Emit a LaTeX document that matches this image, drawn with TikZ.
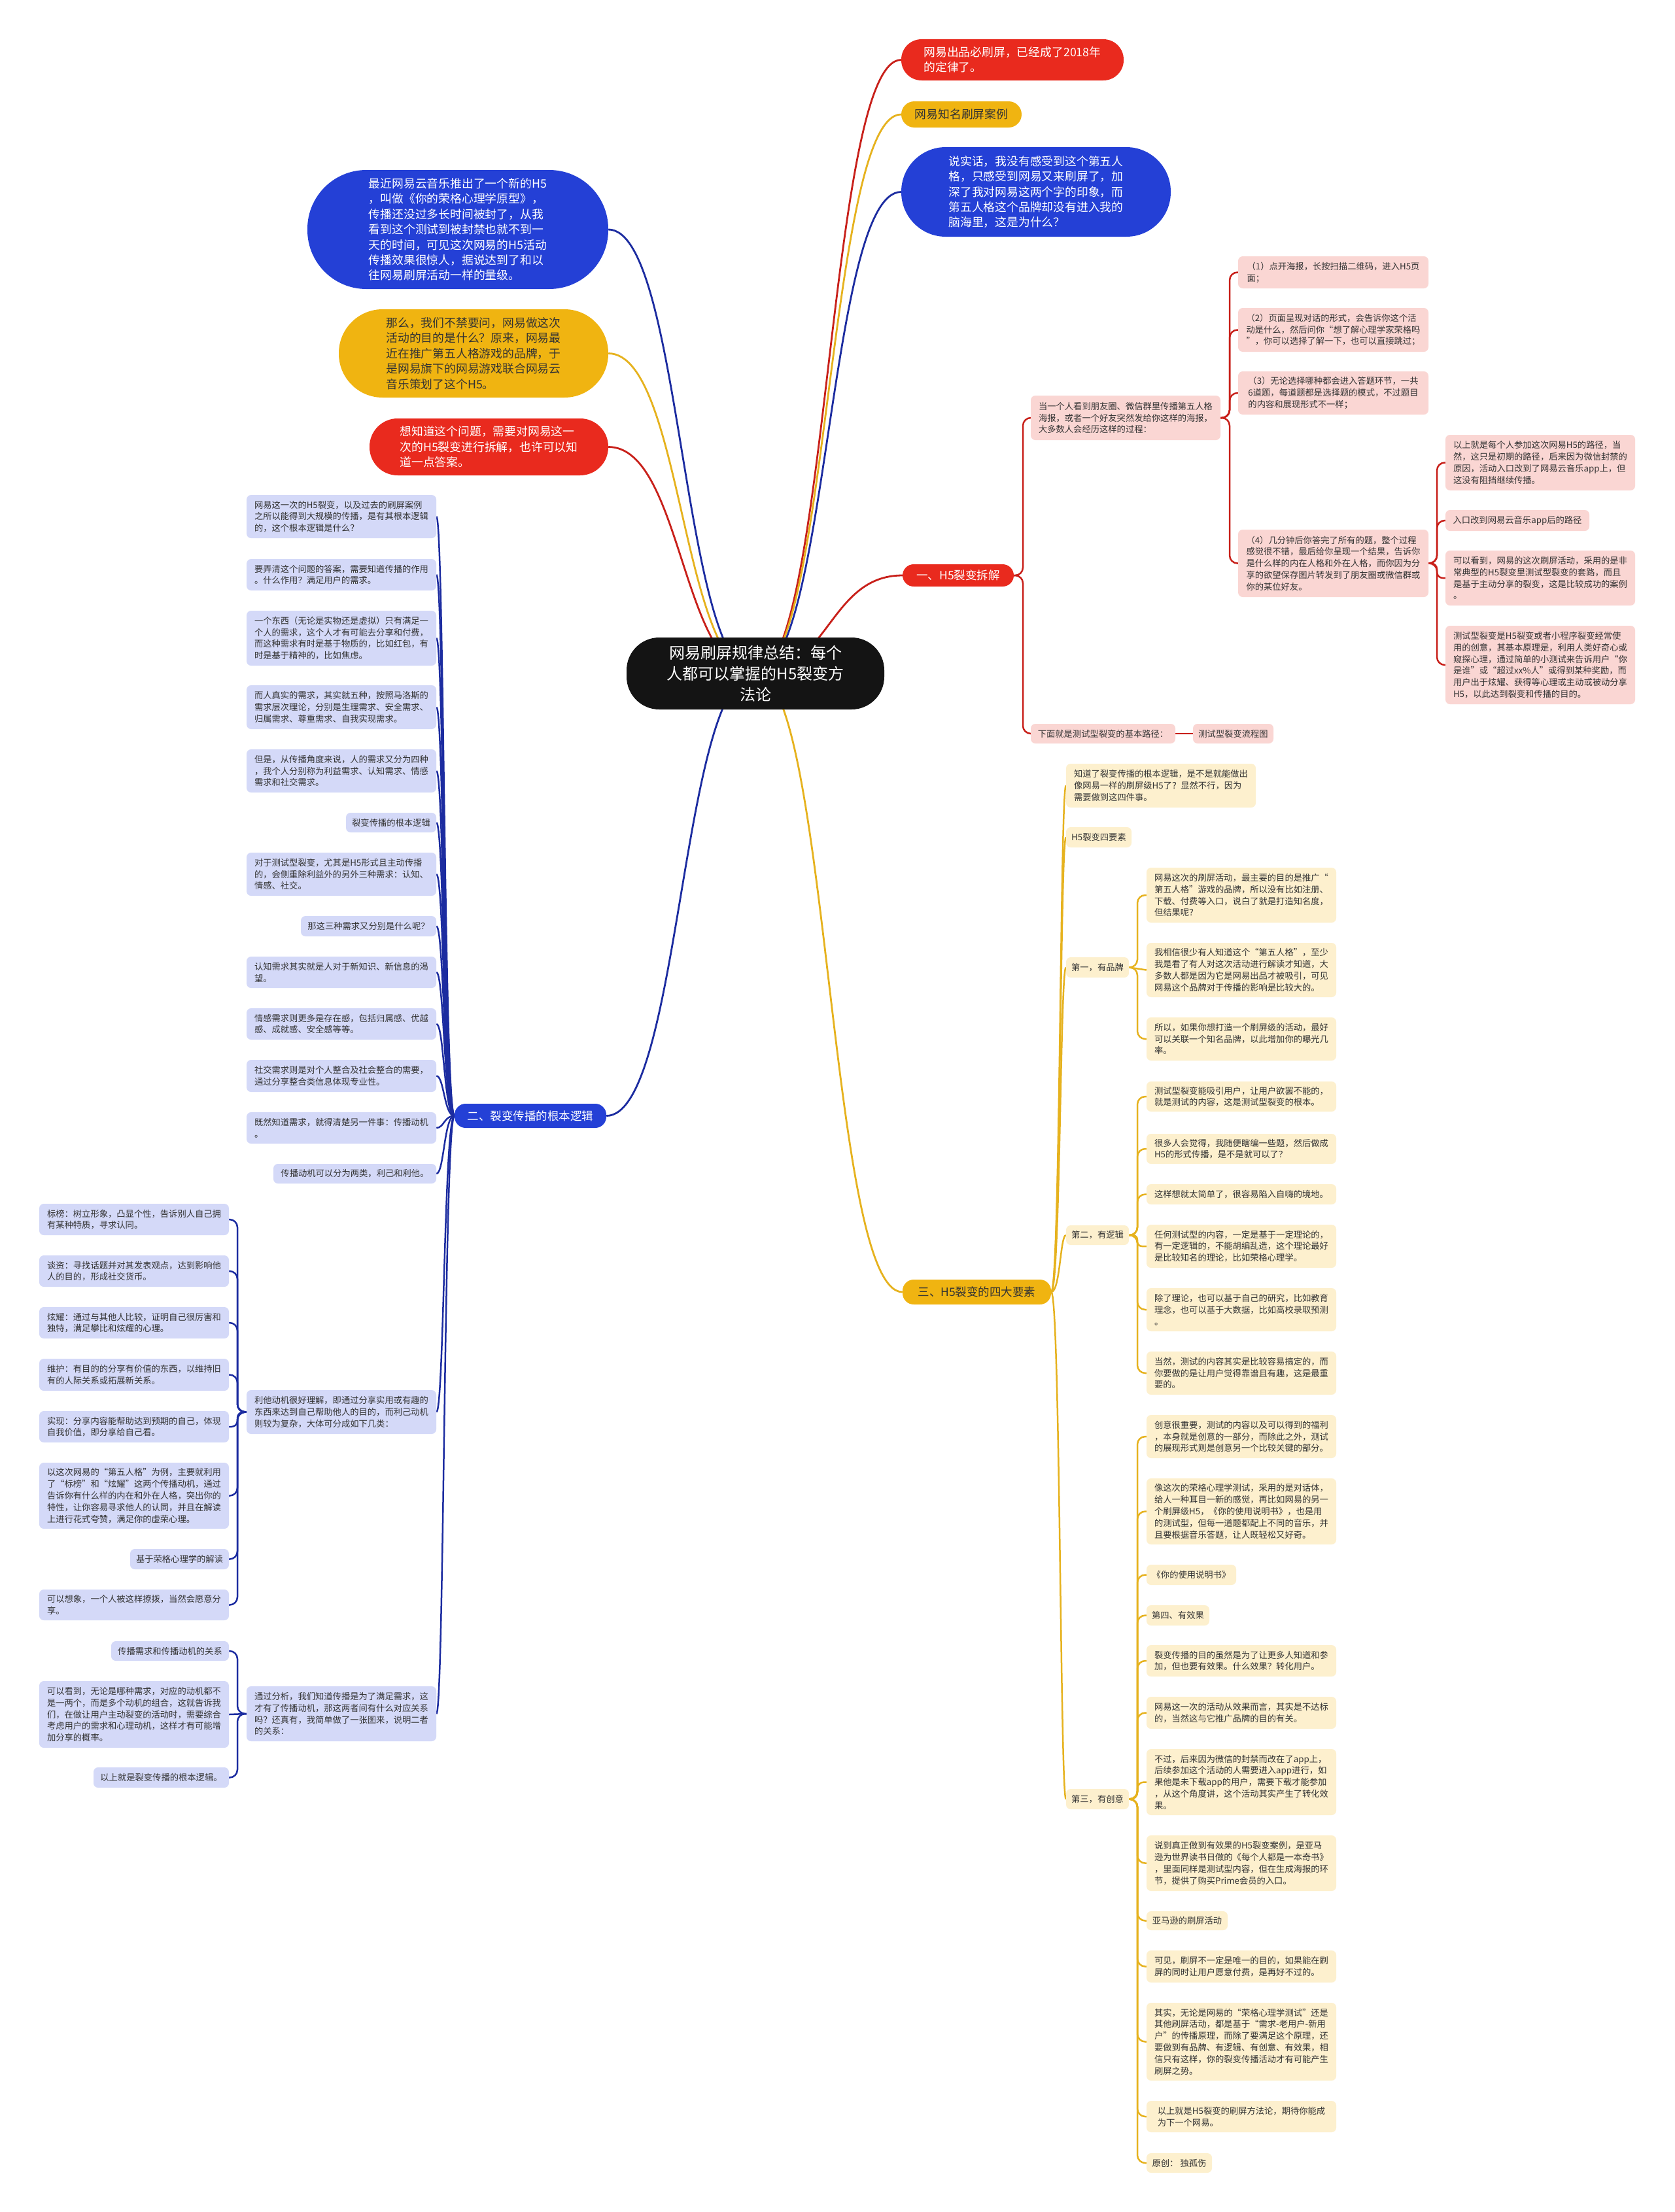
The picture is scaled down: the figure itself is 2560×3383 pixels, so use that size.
\documentclass[tikz,border=0pt]{standalone}
\usepackage{fontspec}
\setmainfont{Noto Sans CJK SC}
\usetikzlibrary{calc,backgrounds}
\definecolor{redf}{RGB}{233,42,30}
\definecolor{yelf}{RGB}{240,180,17}
\definecolor{bluf}{RGB}{36,64,214}
\definecolor{pinkf}{RGB}{250,214,211}
\definecolor{lavf}{RGB}{212,217,248}
\definecolor{cref}{RGB}{253,240,206}
\definecolor{redl}{RGB}{200,32,26}
\definecolor{blul}{RGB}{28,44,160}
\definecolor{yell}{RGB}{230,178,30}
\definecolor{txt}{RGB}{51,51,51}
\definecolor{rootf}{RGB}{20,20,20}
\tikzset{
  sub/.style={rectangle, rounded corners=7pt, inner sep=2pt, align=left, text=txt, font=\fontsize{13.3}{17.8}\selectfont},
  pk/.style={sub, fill=pinkf},
  lv/.style={sub, fill=lavf},
  cr/.style={sub, fill=cref},
  big/.style={rectangle, inner sep=2pt, align=left, font=\fontsize{17.8}{23.4}\selectfont},
  lab/.style={rectangle, rounded corners=17pt, inner sep=2pt, align=center, font=\fontsize{17.5}{21}\selectfont},
  rootbox/.style={rectangle, rounded corners=50pt, fill=rootf, text=white, align=center, inner sep=2pt, font=\fontsize{24}{32}\selectfont},
  lw/.style={line width=2.5pt},
}
\newcommand\bx[7]{\node[#6, minimum width={(#4-#2)*1pt}, minimum height={(#5-#3)*1pt}] (#1) at ({(#2+#4)/2},{-(#3+#5)/2}) {#7};}
\newcommand\scurve[3]{\draw[#1,line width=2.8pt] (#2) .. controls ($(#2)!0.5!(#2 -| #3)$) and ($(#3)!0.5!(#3 -| #2)$) .. (#3);}
\newcommand\fan[4]{\draw[#1,lw] (#2) .. controls (#2 -| #4) and (#3 -| #4) .. (#3);}
\newcommand\elb[5]{\draw[#1,lw,rounded corners=#5] (#2) -- (#2 -| #4) |- (#3);}
\begin{document}
\begin{tikzpicture}[x=1pt,y=1pt]
\useasboundingbox (0,0) rectangle (2560,-3383);
\coordinate (rb1) at (1564,0);
\coordinate (rb2) at (1880,0);
\coordinate (rb3) at (2197,0);
\coordinate (bt) at (679,0);
\coordinate (bb) at (363,0);
\coordinate (yt) at (1621,0);
\coordinate (yb) at (1739,0);
% root and first level
\bx{root}{958}{975}{1352}{1085}{rootbox}{网易刷屏规律总结：每个\\人都可以掌握的H5裂变方\\法论}
\bx{R1}{1378}{60}{1718}{123}{big,fill=redf,text=white,rounded corners=31pt}{网易出品必刷屏，已经成了2018年\\的定律了。}
\bx{R2}{1378}{155}{1562}{195}{big,fill=yelf,text=txt,rounded corners=20pt}{网易知名刷屏案例}
\bx{R3}{1378}{225}{1790}{362}{big,fill=bluf,text=white,rounded corners=68pt}{说实话，我没有感受到这个第五人\\格，只感受到网易又来刷屏了，加\\深了我对网易这两个字的印象，而\\第五人格这个品牌却没有进入我的\\脑海里，这是为什么？}
\bx{L1}{470}{260}{930}{442}{big,fill=bluf,text=white,rounded corners=90pt}{最近网易云音乐推出了一个新的H5\\，叫做《你的荣格心理学原型》，\\传播还没过多长时间被封了，从我\\看到这个测试到被封禁也就不到一\\天的时间，可见这次网易的H5活动\\传播效果很惊人，据说达到了和以\\往网易刷屏活动一样的量级。}
\bx{L2}{518}{473}{930}{608}{big,fill=yelf,text=txt,rounded corners=67pt}{那么，我们不禁要问，网易做这次\\活动的目的是什么？原来，网易最\\近在推广第五人格游戏的品牌，于\\是网易旗下的网易游戏联合网易云\\音乐策划了这个H5。}
\bx{L3}{565}{640}{930}{727}{big,fill=redf,text=white,rounded corners=43pt}{想知道这个问题，需要对网易这一\\次的H5裂变进行拆解，也许可以知\\道一点答案。}
\bx{B1}{1380}{863}{1550}{897}{lab,fill=redf,text=white}{一、H5裂变拆解}
\bx{B2}{695}{1688}{927}{1725}{lab,fill=bluf,text=white}{二、裂变传播的根本逻辑}
\bx{B3}{1380}{1957}{1607}{1995}{lab,fill=yelf,text=txt}{三、H5裂变的四大要素}
% red branch
\bx{C1}{1576}{605}{1866}{673}{pk}{当一个人看到朋友圈、微信群里传播第五人格\\海报，或者一个好友突然发给你这样的海报，\\大多数人会经历这样的过程：}
\bx{C2}{1576}{1107}{1797}{1137}{pk}{下面就是测试型裂变的基本路径：}
\bx{C2a}{1824}{1107}{1947}{1137}{pk}{测试型裂变流程图}
\bx{D1}{1893}{392}{2184}{441}{pk}{（1）点开海报，长按扫描二维码，进入H5页\\面；}
\bx{D2}{1893}{471}{2184}{538}{pk}{（2）页面呈现对话的形式，会告诉你这个活\\动是什么，然后问你“想了解心理学家荣格吗\\”，你可以选择了解一下，也可以直接跳过；}
\bx{D3}{1893}{568}{2184}{634}{pk}{（3）无论选择哪种都会进入答题环节，一共\\6道题，每道题都是选择题的模式，不过题目\\的内容和展现形式不一样；}
\bx{D4}{1893}{810}{2184}{913}{pk}{（4）几分钟后你答完了所有的题，整个过程\\感觉很不错，最后给你呈现一个结果，告诉你\\是什么样的内在人格和外在人格，而你因为分\\享的欲望保存图片转发到了朋友圈或微信群或\\你的某位好友。}
\bx{E1}{2210}{665}{2500}{750}{pk}{以上就是每个人参加这次网易H5的路径，当\\然，这只是初期的路径，后来因为微信封禁的\\原因，活动入口改到了网易云音乐app上，但\\这没有阻挡继续传播。}
\bx{E2}{2210}{780}{2430}{812}{pk}{入口改到网易云音乐app后的路径}
\bx{E3}{2210}{842}{2500}{926}{pk}{可以看到，网易的这次刷屏活动，采用的是非\\常典型的H5裂变里测试型裂变的套路，而且\\是基于主动分享的裂变，这是比较成功的案例\\。}
\bx{E4}{2210}{957}{2500}{1077}{pk}{测试型裂变是H5裂变或者小程序裂变经常使\\用的创意，其基本原理是，利用人类好奇心或\\窥探心理，通过简单的小测试来告诉用户“你\\是谁”或“超过xx\%人”或得到某种奖励，而\\用户出于炫耀、获得等心理或主动或被动分享\\H5，以此达到裂变和传播的目的。}
% blue branch
\bx{F1}{377}{757}{667}{823}{lv}{网易这一次的H5裂变，以及过去的刷屏案例\\之所以能得到大规模的传播，是有其根本逻辑\\的，这个根本逻辑是什么？}
\bx{F2}{377}{855}{667}{903}{lv}{要弄清这个问题的答案，需要知道传播的作用\\。什么作用？满足用户的需求。}
\bx{F3}{377}{934}{667}{1018}{lv}{一个东西（无论是实物还是虚拟）只有满足一\\个人的需求，这个人才有可能去分享和付费，\\而这种需求有时是基于物质的，比如红包，有\\时是基于精神的，比如焦虑。}
\bx{F4}{377}{1048}{667}{1115}{lv}{而人真实的需求，其实就五种，按照马洛斯的\\需求层次理论，分别是生理需求、安全需求、\\归属需求、尊重需求、自我实现需求。}
\bx{F5}{377}{1146}{667}{1212}{lv}{但是，从传播角度来说，人的需求又分为四种\\，我个人分别称为利益需求、认知需求、情感\\需求和社交需求。}
\bx{F6}{529}{1243}{667}{1273}{lv}{裂变传播的根本逻辑}
\bx{F7}{377}{1304}{667}{1370}{lv}{对于测试型裂变，尤其是H5形式且主动传播\\的，会侧重除利益外的另外三种需求：认知、\\情感、社交。}
\bx{F8}{460}{1401}{667}{1432}{lv}{那这三种需求又分别是什么呢？}
\bx{F9}{377}{1463}{667}{1511}{lv}{认知需求其实就是人对于新知识、新信息的渴\\望。}
\bx{F10}{377}{1542}{667}{1590}{lv}{情感需求则更多是存在感，包括归属感、优越\\感、成就感、安全感等等。}
\bx{F11}{377}{1621}{667}{1670}{lv}{社交需求则是对个人整合及社会整合的需要，\\通过分享整合类信息体现专业性。}
\bx{F12}{377}{1701}{667}{1749}{lv}{既然知道需求，就得清楚另一件事：传播动机\\。}
\bx{F13}{418}{1780}{667}{1810}{lv}{传播动机可以分为两类，利己和利他。}
\bx{G1}{377}{2126}{667}{2193}{lv}{利他动机很好理解，即通过分享实用或有趣的\\东西来达到自己帮助他人的目的，而利己动机\\则较为复杂，大体可分成如下几类：}
\bx{G2}{377}{2579}{667}{2663}{lv}{通过分析，我们知道传播是为了满足需求，这\\才有了传播动机，那这两者间有什么对应关系\\吗？还真有，我简单做了一张图来，说明二者\\的关系：}
\bx{H1}{60}{1841}{350}{1889}{lv}{标榜：树立形象，凸显个性，告诉别人自己拥\\有某种特质，寻求认同。}
\bx{H2}{60}{1920}{350}{1968}{lv}{谈资：寻找话题并对其发表观点，达到影响他\\人的目的，形成社交货币。}
\bx{H3}{60}{1999}{350}{2047}{lv}{炫耀：通过与其他人比较，证明自己很厉害和\\独特，满足攀比和炫耀的心理。}
\bx{H4}{60}{2078}{350}{2127}{lv}{维护：有目的的分享有价值的东西，以维持旧\\有的人际关系或拓展新关系。}
\bx{H5}{60}{2158}{350}{2206}{lv}{实现：分享内容能帮助达到预期的自己，体现\\自我价值，即分享给自己看。}
\bx{H6}{60}{2237}{350}{2338}{lv}{以这次网易的“第五人格”为例，主要就利用\\了“标榜”和“炫耀”这两个传播动机，通过\\告诉你有什么样的内在和外在人格，突出你的\\特性，让你容易寻求他人的认同，并且在解读\\上进行花式夸赞，满足你的虚荣心理。}
\bx{H7}{199}{2369}{350}{2400}{lv}{基于荣格心理学的解读}
\bx{H8}{60}{2431}{350}{2478}{lv}{可以想象，一个人被这样撩拨，当然会愿意分\\享。}
\bx{I1}{170}{2510}{350}{2540}{lv}{传播需求和传播动机的关系}
\bx{I2}{60}{2571}{350}{2673}{lv}{可以看到，无论是哪种需求，对应的动机都不\\是一两个，而是多个动机的组合，这就告诉我\\们，在做让用户主动裂变的活动时，需要综合\\考虑用户的需求和心理动机，这样才有可能增\\加分享的概率。}
\bx{I3}{143}{2703}{350}{2734}{lv}{以上就是裂变传播的根本逻辑。}
% yellow branch
\bx{J1}{1630}{1168}{1920}{1235}{cr}{知道了裂变传播的根本逻辑，是不是就能做出\\像网易一样的刷屏级H5了？显然不行，因为\\需要做到这四件事。}
\bx{J2}{1630}{1265}{1730}{1296}{cr}{H5裂变四要素}
\bx{J3}{1630}{1464}{1726}{1495}{cr}{第一，有品牌}
\bx{J4}{1630}{1874}{1726}{1904}{cr}{第二，有逻辑}
\bx{J5}{1630}{2736}{1726}{2767}{cr}{第三，有创意}
\bx{K1}{1753}{1327}{2043}{1411}{cr}{网易这次的刷屏活动，最主要的目的是推广“\\第五人格”游戏的品牌，所以没有比如注册、\\下载、付费等入口，说白了就是打造知名度，\\但结果呢？}
\bx{K2}{1753}{1442}{2043}{1525}{cr}{我相信很少有人知道这个“第五人格”，至少\\我是看了有人对这次活动进行解读才知道，大\\多数人都是因为它是网易出品才被吸引，可见\\网易这个品牌对于传播的影响是比较大的。}
\bx{K3}{1753}{1556}{2043}{1622}{cr}{所以，如果你想打造一个刷屏级的活动，最好\\可以关联一个知名品牌，以此增加你的曝光几\\率。}
\bx{K4}{1753}{1654}{2043}{1700}{cr}{测试型裂变能吸引用户，让用户欲罢不能的，\\就是测试的内容，这是测试型裂变的根本。}
\bx{K5}{1753}{1734}{2043}{1780}{cr}{很多人会觉得，我随便瞎编一些题，然后做成\\H5的形式传播，是不是就可以了？}
\bx{K6}{1753}{1811}{2043}{1842}{cr}{这样想就太简单了，很容易陷入自嗨的境地。}
\bx{K7}{1753}{1873}{2043}{1939}{cr}{任何测试型的内容，一定是基于一定理论的，\\有一定逻辑的，不能胡编乱造，这个理论最好\\是比较知名的理论，比如荣格心理学。}
\bx{K8}{1753}{1970}{2043}{2036}{cr}{除了理论，也可以基于自己的研究，比如教育\\理念，也可以基于大数据，比如高校录取预测\\。}
\bx{K9}{1753}{2067}{2043}{2133}{cr}{当然，测试的内容其实是比较容易搞定的，而\\你要做的是让用户觉得靠谱且有趣，这是最重\\要的。}
\bx{K10}{1753}{2164}{2043}{2230}{cr}{创意很重要，测试的内容以及可以得到的福利\\，本身就是创意的一部分，而除此之外，测试\\的展现形式则是创意另一个比较关键的部分。}
\bx{K11}{1753}{2261}{2043}{2362}{cr}{像这次的荣格心理学测试，采用的是对话体，\\给人一种耳目一新的感觉，再比如网易的另一\\个刷屏级H5，《你的使用说明书》，也是用\\的测试型，但每一道题都配上不同的音乐，并\\且要根据音乐答题，让人既轻松又好奇。}
\bx{K12}{1753}{2393}{1890}{2424}{cr}{《你的使用说明书》}
\bx{K13}{1753}{2455}{1849}{2486}{cr}{第四、有效果}
\bx{K14}{1753}{2516}{2043}{2564}{cr}{裂变传播的目的虽然是为了让更多人知道和参\\加，但也要有效果。什么效果？转化用户。}
\bx{K15}{1753}{2595}{2043}{2644}{cr}{网易这一次的活动从效果而言，其实是不达标\\的，当然这与它推广品牌的目的有关。}
\bx{K16}{1753}{2675}{2043}{2776}{cr}{不过，后来因为微信的封禁而改在了app上，\\后续参加这个活动的人需要进入app进行，如\\果他是未下载app的用户，需要下载才能参加\\，从这个角度讲，这个活动其实产生了转化效\\果。}
\bx{K17}{1753}{2807}{2043}{2892}{cr}{说到真正做到有效果的H5裂变案例，是亚马\\逊为世界读书日做的《每个人都是一本奇书》\\，里面同样是测试型内容，但在生成海报的环\\节，提供了购买Prime会员的入口。}
\bx{K18}{1753}{2923}{1877}{2952}{cr}{亚马逊的刷屏活动}
\bx{K19}{1753}{2983}{2043}{3032}{cr}{可见，刷屏不一定是唯一的目的，如果能在刷\\屏的同时让用户愿意付费，是再好不过的。}
\bx{K20}{1753}{3063}{2043}{3182}{cr}{其实，无论是网易的“荣格心理学测试”还是\\其他刷屏活动，都是基于“需求-老用户-新用\\户”的传播原理，而除了要满足这个原理，还\\要做到有品牌、有逻辑、有创意、有效果，相\\信只有这样，你的裂变传播活动才有可能产生\\刷屏之势。}
\bx{K21}{1753}{3213}{2043}{3261}{cr}{以上就是H5裂变的刷屏方法论，期待你能成\\为下一个网易。}
\bx{K22}{1753}{3293}{1853}{3323}{cr}{原创： 独孤伤}
\begin{scope}[on background layer]
\fill[white] (0,0) rectangle (2560,-3383);
% root curves
\scurve{redl}{root.center}{R1.west}
\scurve{yell}{root.center}{R2.west}
\scurve{blul}{root.center}{R3.west}
\scurve{blul}{root.center}{L1.east}
\scurve{yell}{root.center}{L2.east}
\scurve{redl}{root.center}{L3.east}
\scurve{redl}{root.center}{B1.west}
\scurve{blul}{root.center}{B2.east}
\scurve{yell}{root.center}{B3.west}
% red branch
\elb{redl}{B1.east}{C1.west}{rb1}{12pt}
\elb{redl}{B1.east}{C2.west}{rb1}{12pt}
\draw[redl,lw] (C2.east) -- (C2a.west);
\elb{redl}{C1.east}{D1.west}{rb2}{12pt}
\elb{redl}{C1.east}{D2.west}{rb2}{12pt}
\elb{redl}{C1.east}{D3.west}{rb2}{12pt}
\elb{redl}{C1.east}{D4.west}{rb2}{12pt}
\elb{redl}{D4.east}{E1.west}{rb3}{12pt}
\elb{redl}{D4.east}{E2.west}{rb3}{12pt}
\elb{redl}{D4.east}{E3.west}{rb3}{9pt}
\elb{redl}{D4.east}{E4.west}{rb3}{12pt}
% blue branch
\foreach \n in {F1,F2,F3,F4,F5,F6,F7,F8,F9,F10,F11,F12,F13,G1,G2}{\fan{blul}{B2.west}{\n.east}{bt}}
\elb{blul}{G1.west}{H1.east}{bb}{12pt}
\elb{blul}{G1.west}{H2.east}{bb}{12pt}
\elb{blul}{G1.west}{H3.east}{bb}{12pt}
\elb{blul}{G1.west}{H4.east}{bb}{12pt}
\elb{blul}{G1.west}{H5.east}{bb}{9pt}
\elb{blul}{G1.west}{H6.east}{bb}{12pt}
\elb{blul}{G1.west}{H7.east}{bb}{12pt}
\elb{blul}{G1.west}{H8.east}{bb}{12pt}
\elb{blul}{G2.west}{I1.east}{bb}{12pt}
\draw[blul,lw] (G2.west) -- (I2.east);
\elb{blul}{G2.west}{I3.east}{bb}{12pt}
% yellow branch
\foreach \n in {J1,J2,J3,J4,J5}{\fan{yell}{B3.east}{\n.west}{yt}}
\elb{yell}{J3.east}{K1.west}{yb}{12pt}
\draw[yell,lw] (J3.east) -- (K2.west);
\elb{yell}{J3.east}{K3.west}{yb}{12pt}
\elb{yell}{J4.east}{K4.west}{yb}{12pt}
\elb{yell}{J4.east}{K5.west}{yb}{12pt}
\elb{yell}{J4.east}{K6.west}{yb}{12pt}
\elb{yell}{J4.east}{K7.west}{yb}{7pt}
\elb{yell}{J4.east}{K8.west}{yb}{12pt}
\elb{yell}{J4.east}{K9.west}{yb}{12pt}
\foreach \n in {K10,K11,K12,K13,K14,K15,K17,K18,K19,K20,K21,K22}{\elb{yell}{J5.east}{\n.west}{yb}{12pt}}
\elb{yell}{J5.east}{K16.west}{yb}{10pt}
\end{scope}
\end{tikzpicture}
\end{document}
